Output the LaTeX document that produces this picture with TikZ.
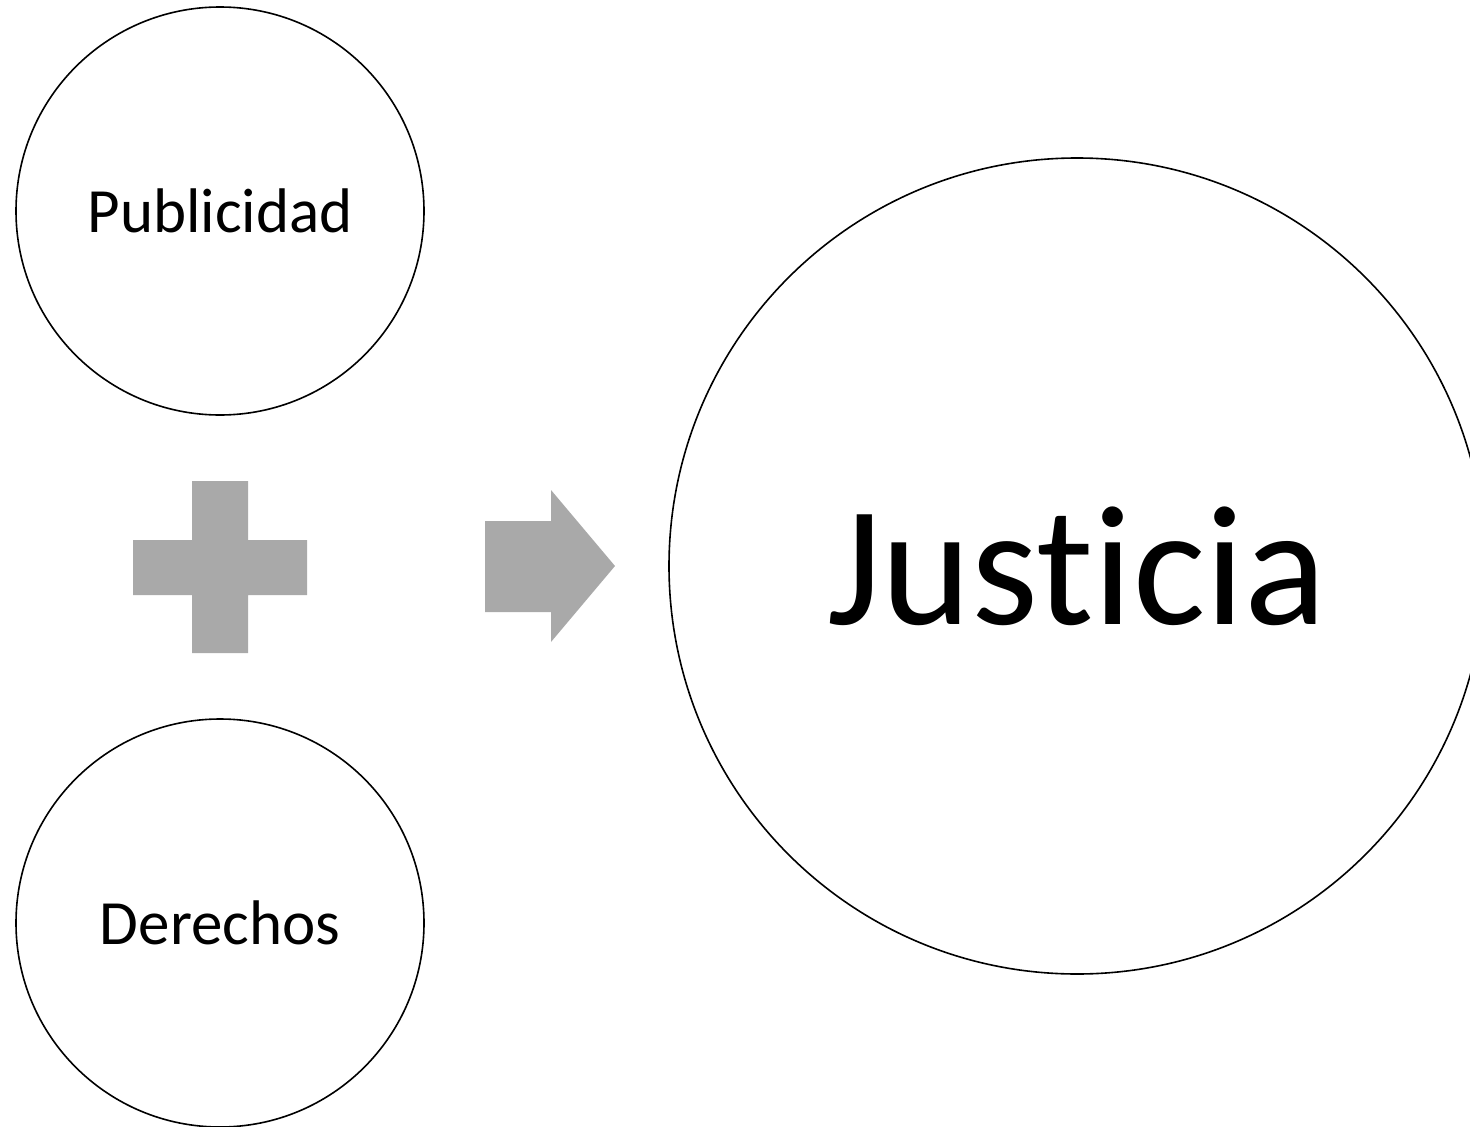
\documentclass[tikz,border=0pt]{standalone}
\usepackage{fontspec}
\setmainfont[Ligatures={NoCommon,NoContextual}]{Carlito}
\definecolor{shapegray}{HTML}{A9A9A9}
\begin{document}
\begin{tikzpicture}[x=1pt,y=-1pt,
  bubble/.style={circle,draw=black,line width=1.6pt,inner sep=0pt,fill=white},
  small/.style={bubble,minimum size=408pt,font=\fontsize{63}{75}\selectfont},
  big/.style={bubble,minimum size=816pt,font=\fontsize{171}{200}\selectfont},
  sym/.style={fill=shapegray,draw=none}]
\useasboundingbox (0,0) rectangle (1470,1127);
\clip (0,0) rectangle (1470,1127);
\node[small] (pub) at (220,211) {Publicidad};
\node[small] (der) at (220,923) {Derechos};
\node[big] (jus) at (1077,566) {Justicia};
% plus sign
\fill[sym] (192,481) -- (248,481) -- (248,540) -- (307,540) -- (307,595) -- (248,595) -- (248,653) -- (192,653) -- (192,595) -- (133,595) -- (133,540) -- (192,540) -- cycle;
% arrow
\fill[sym] (485,521) -- (551,521) -- (551,490) -- (615,566) -- (551,642) -- (551,612) -- (485,612) -- cycle;
\end{tikzpicture}
\end{document}
